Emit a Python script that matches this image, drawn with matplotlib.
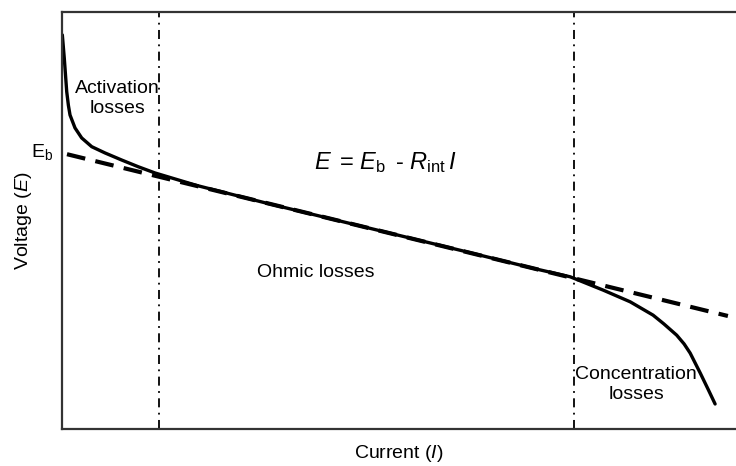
import matplotlib
matplotlib.use("Agg")
import matplotlib.pyplot as plt

plt.rcParams['font.family'] = ['Liberation Sans', 'DejaVu Sans']
plt.rcParams['mathtext.fontset'] = 'custom'
plt.rcParams['mathtext.rm'] = 'Liberation Sans'
plt.rcParams['mathtext.it'] = 'Liberation Sans:italic'

# -----------------------
# Data (arbitrary units)
# -----------------------
current = [0.05, 0.34, 0.70, 0.95, 1.19, 1.93, 2.92, 4.41, 6.38, 8.86, 11.3, 13.8,
           20.0, 30.0, 45.0, 60.0, 70.0, 75.4,
           80.3, 84.3, 87.7, 89.3, 91.2, 92.3, 93.2, 94.7, 95.9, 96.9]
voltage = [94.5, 88.9, 80.9, 77.6, 75.3, 72.2, 69.8, 67.7, 66.2, 64.5, 62.9, 61.4,
           58.4, 54.3, 48.4, 42.5, 38.5, 36.5,
           33.3, 30.5, 27.3, 25.2, 22.5, 20.4, 18.2, 13.4, 9.4, 6.0]

# ideal ohmic line E = Eb - Rint * I
ohm_current = [0.74, 98.8]
ohm_voltage = [65.9, 27.1]

# region boundaries
boundaries = [14.4, 76.0]

# -----------------------
# Plot
# -----------------------
fig = plt.figure(figsize=(7.36, 4.66), dpi=100)
ax = fig.add_axes([62 / 736, 37 / 466, 674 / 736, 417 / 466])

ax.plot(current, voltage, color='black', linewidth=2.4,
        solid_joinstyle='round', solid_capstyle='round')
ax.plot(ohm_current, ohm_voltage, color='black', linewidth=3,
        linestyle=(0, (4.5, 2.5)))

for b in boundaries:
    ax.axvline(b, color='black', linewidth=1.3, linestyle=(0, (5, 3, 1, 3)))

ax.text(8.2, 79.3, "Activation\nlosses", ha='center', va='center', fontsize=14)
ax.text(85.2, 10.6, "Concentration\nlosses", ha='center', va='center', fontsize=14)
ax.text(37.7, 37.6, "Ohmic losses", ha='center', va='center', fontsize=14)
ax.text(47.9, 63.8, r'$E\,$ = $E_{\mathrm{b}}\,$ - $R_{\mathrm{int}}\,I$',
        ha='center', va='center', fontsize=17)
ax.text(-3.0, 66.4, r'$\mathrm{E}_{\mathrm{b}}$', ha='center', va='center',
        fontsize=14, clip_on=False)

ax.set_xlim(0, 100)
ax.set_ylim(0, 100)
ax.set_xticks([])
ax.set_yticks([])
ax.spines['right'].set_visible(False)
for s in ['left', 'top', 'bottom']:
    ax.spines[s].set_linewidth(1.6)
    ax.spines[s].set_color('#333333')

ax.set_xlabel(r'Current ($I$)', fontsize=14, labelpad=10)
ax.set_ylabel(r'Voltage ($E$)', fontsize=14, labelpad=20)

fig.savefig("out.png", dpi=100)
